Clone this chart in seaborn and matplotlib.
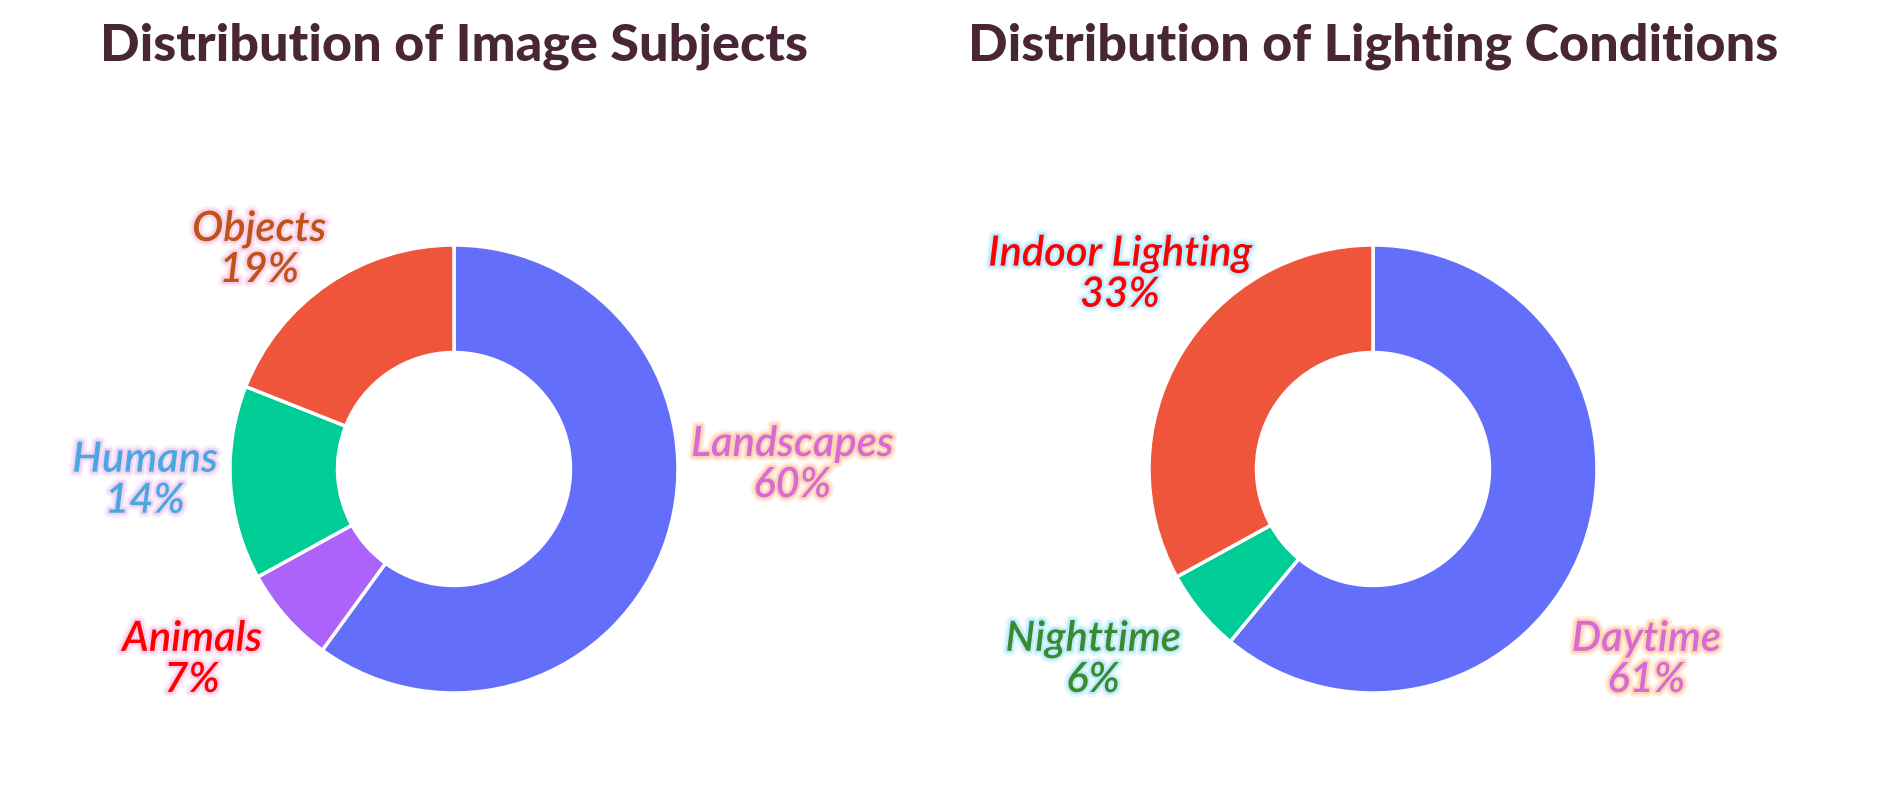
import numpy as np
import pandas as pd
import matplotlib
matplotlib.use("Agg")
import matplotlib.pyplot as plt
import matplotlib.patheffects as pe
import seaborn as sns

# ==========================================================
# Data
# ==========================================================

subject_labels = ["Landscapes", "Animals", "Humans", "Objects"]
subject_values = [60, 7, 14, 19]

lighting_labels = ["Daytime", "Nighttime", "Indoor Lighting"]
lighting_values = [61, 6, 33]

# slice colours (plotly-like palette)
palette = {"blue": "#636EFA", "red": "#EF553B", "green": "#00CC96", "purple": "#AB63FA"}
subject_colors = [palette["blue"], palette["purple"], palette["green"], palette["red"]]
lighting_colors = [palette["blue"], palette["green"], palette["red"]]

# label styling: text colour, glow colour, position (in donut radius units)
subject_style = {
    "Landscapes": ("#D56BD3", "#FFD2B0", (1.51, 0.02)),
    "Animals": ("#FF0000", "#F8D0F0", (-1.17, -0.85)),
    "Humans": ("#4AA8E0", "#F3D0F3", (-1.38, -0.05)),
    "Objects": ("#BF5418", "#F8D0EC", (-0.87, 0.98)),
}
lighting_style = {
    "Daytime": ("#D56BD3", "#FFD2B0", (1.22, -0.85)),
    "Nighttime": ("#3A8A2E", "#BDEBFF", (-1.25, -0.85)),
    "Indoor Lighting": ("#FF0000", "#BDEBFF", (-1.13, 0.87)),
}

# ==========================================================
# Plot Settings
# ==========================================================

sns.set_theme(style="white")
plt.rcParams["font.family"] = ["Lato", "DejaVu Sans"]

W, H = 1903, 790
R = 224          # donut radius in pixels
CY = 469         # donut centre from top

fig = plt.figure(figsize=(W / 100, H / 100), dpi=100)
fig.patch.set_facecolor("white")


def donut(cx, labels, values, colors, style, title):
    ax = fig.add_axes([(cx - 2 * R) / W, 0, 4 * R / W, 1])
    ax.axis("off")

    ax.pie(
        values,
        colors=colors,
        startangle=90,
        counterclock=False,
        radius=1,
        wedgeprops=dict(width=0.48, edgecolor="white", linewidth=2.5),
    )
    ax.set_xlim(-2, 2)
    ax.set_ylim(-(H - CY) / R, CY / R)

    total = sum(values)
    for lab, val in zip(labels, values):
        color, glow, (x, y) = style[lab]
        # soft glow: wide faint stroke under a narrower stronger one
        glow_fx = [
            pe.Stroke(linewidth=7, foreground=glow, alpha=0.35),
            pe.Stroke(linewidth=3.5, foreground=glow, alpha=0.9),
            pe.Normal(),
        ]
        ax.text(
            x, y, f"{lab}\n{val / total * 100:.0f}%",
            ha="center", va="center", multialignment="center",
            fontsize=30, style="italic", fontweight="semibold",
            color=color, linespacing=1.1, path_effects=glow_fx,
        )

    fig.text(cx / W, 1 - 46 / H, title, ha="center", va="center",
             fontsize=37.5, fontweight="black", color="#482636")


donut(454, subject_labels, subject_values, subject_colors, subject_style,
      "Distribution of Image Subjects")
donut(1373, lighting_labels, lighting_values, lighting_colors, lighting_style,
      "Distribution of Lighting Conditions")

plt.savefig("out.png", dpi=100, facecolor="white")
